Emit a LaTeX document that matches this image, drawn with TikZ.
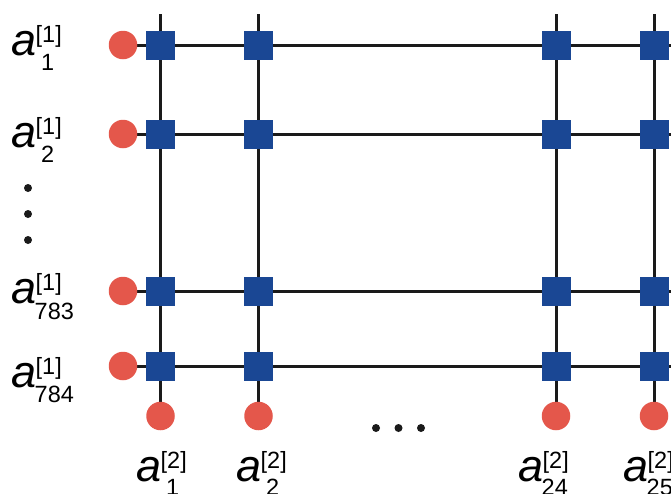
\documentclass[tikz,border=0pt]{standalone}
\usepackage{fontspec}
\setmainfont{Liberation Sans}
\usetikzlibrary{backgrounds}
\definecolor{nred}{RGB}{228,87,75}
\definecolor{nblue}{RGB}{26,71,148}
\definecolor{nline}{RGB}{26,26,26}
\begin{document}
\begin{tikzpicture}[x=1pt,y=-1pt,
  redc/.style={circle,fill=nred,draw=none,minimum size=28.5pt,inner sep=0},
  bluesq/.style={rectangle,fill=nblue,draw=none,minimum size=29pt,inner sep=0},
  wire/.style={draw=nline,line width=3pt},
  dotc/.style={circle,fill=nline,draw=none,minimum size=8pt,inner sep=0},
  alab/.style={anchor=base west,inner sep=0,font=\fontsize{45}{45}\selectfont\itshape},
  slab/.style={anchor=base west,inner sep=0,font=\fontsize{23.5}{23.5}\selectfont}]
\useasboundingbox (0,0) rectangle (671,493);
% left input circles
\node[redc] (L1) at (123,45) {};
\node[redc] (L2) at (123,134) {};
\node[redc] (L783) at (123,291) {};
\node[redc] (L784) at (123,366) {};
% bottom output circles
\node[redc] (B1) at (160.5,416) {};
\node[redc] (B2) at (258.5,416) {};
\node[redc] (B24) at (556,416) {};
\node[redc] (B25) at (654,416) {};
% top ends and right ends
\coordinate (T1) at (160.5,14);
\coordinate (T2) at (258.5,14);
\coordinate (T24) at (556,14);
\coordinate (T25) at (654,14);
\coordinate (R1) at (671,45);
\coordinate (R2) at (671,134);
\coordinate (R783) at (671,291);
\coordinate (R784) at (671,366);
% squares
\foreach \r/\ry in {1/45,2/134,783/291,784/366}{
  \foreach \c/\cx in {1/160.5,2/258.5,24/556,25/654}{
    \node[bluesq] (S\r-\c) at (\cx,\ry) {};
  }
}
\begin{scope}[on background layer]
  \foreach \r in {1,2,783,784}{ \draw[wire] (L\r.center) -- (R\r); }
  \foreach \c in {1,2,24,25}{ \draw[wire] (T\c) -- (B\c.center); }
\end{scope}
% ellipsis dots
\node[dotc] (vd1) at (28,188) {};
\node[dotc] (vd2) at (28,214) {};
\node[dotc] (vd3) at (28,240) {};
\node[dotc] (hd1) at (376,428) {};
\node[dotc] (hd2) at (398.5,428) {};
\node[dotc] (hd3) at (421,428) {};
% left labels
\node[alab] (la1) at (11.5,55) {a};
\node[slab] (lp1) at (35.5,42) {[1]};
\node[slab] (ls1) at (41,70) {1};
\node[alab] (la2) at (11.5,147) {a};
\node[slab] (lp2) at (35.5,134) {[1]};
\node[slab] (ls2) at (41,162) {2};
\node[alab] (la783) at (11.5,303) {a};
\node[slab] (lp783) at (35.5,290) {[1]};
\node[slab] (ls783) at (34.5,319) {783};
\node[alab] (la784) at (11.5,387) {a};
\node[slab] (lp784) at (35.5,374) {[1]};
\node[slab] (ls784) at (34.5,402) {784};
% bottom labels
\node[alab] (ba1) at (136.5,481) {a};
\node[slab] (bp1) at (160.5,468) {[2]};
\node[slab] (bs1) at (166,495) {1};
\node[alab] (ba2) at (236.5,481) {a};
\node[slab] (bp2) at (260.5,468) {[2]};
\node[slab] (bs2) at (266,495) {2};
\node[alab] (ba24) at (518.5,481) {a};
\node[slab] (bp24) at (542.5,468) {[2]};
\node[slab] (bs24) at (541.5,495) {24};
\node[alab] (ba25) at (623.5,481) {a};
\node[slab] (bp25) at (647.5,468) {[2]};
\node[slab] (bs25) at (646.5,495) {25};
\end{tikzpicture}
\end{document}
